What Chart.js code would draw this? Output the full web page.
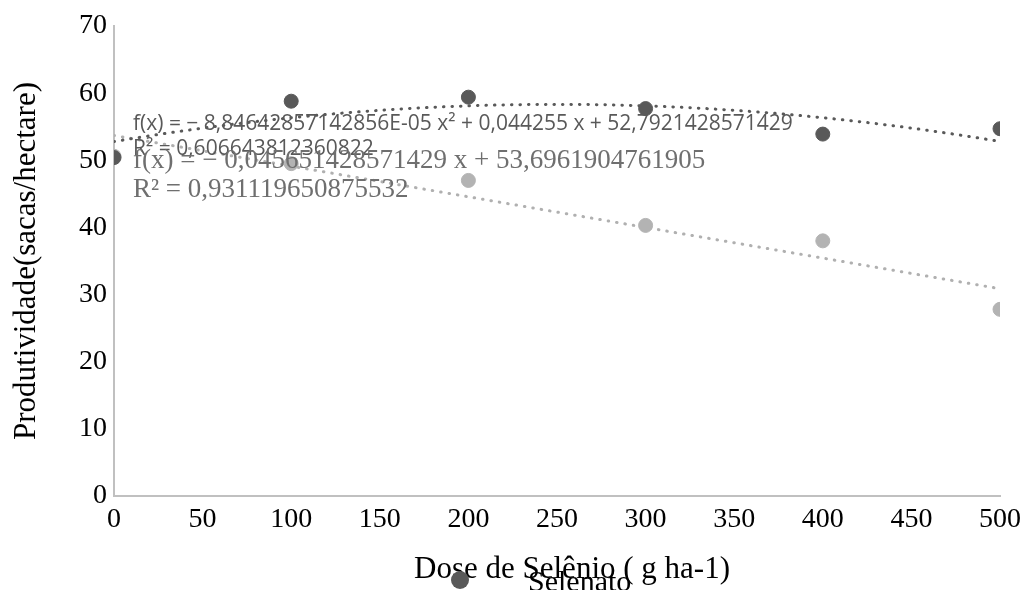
<!DOCTYPE html>
<html>
<head>
<meta charset="utf-8">
<script src="https://cdn.jsdelivr.net/npm/chart.js@4.4.1/dist/chart.umd.min.js"></script>
<style>
  html, body { margin: 0; background: #fff; }
  #wrap { width: 1030px; height: 590px; }
</style>
</head>
<body>
<div id="wrap"><canvas id="chart" width="1030" height="590"></canvas></div>
<script>
// dados
const doses = [0, 100, 200, 300, 400, 500];
const selenato = [50.4, 58.8, 59.4, 57.7, 53.9, 54.7];
const serie2 = [50.6, 49.5, 47.0, 40.3, 38.0, 27.8];
const yTicks = [0, 10, 20, 30, 40, 50, 60, 70];
const xTicks = [0, 50, 100, 150, 200, 250, 300, 350, 400, 450, 500];

// coeficientes das linhas de tendência (texto do gráfico)
const quadCoef = [52.7921428571429, 0.044255, -8.84642857142856e-5];
const linCoef = [53.6961904761905, -0.045651428571429];
const quadLabel = ["f(x) = − 8,84642857142856E-05 x² + 0,044255 x + 52,7921428571429", "R² = 0,606643812360822"];
const linLabel = ["f(x) = − 0,045651428571429 x + 53,6961904761905", "R² = 0,931119650875532"];
const xTitle = "Dose de Selênio ( g ha-1)";

const DARK = "#595959";
const LIGHT = "#b3b3b3";

function trend(coef) {
    const pts = [];
    for (let x = doses[0]; x <= doses[doses.length - 1]; x += 5) {
        let y = 0;
        coef.forEach((c, i) => { y += c * Math.pow(x, i); });
        pts.push({ x, y });
    }
    return pts;
}

function toPoints(ys) {
    return doses.map((x, i) => ({ x, y: ys[i] }));
}

const labelsPlugin = {
    id: "trendLabels",
    afterDatasetsDraw(chart) {
        const ctx = chart.ctx;
        ctx.save();
        ctx.textAlign = "left";
        ctx.textBaseline = "alphabetic";
        ctx.fillStyle = DARK;
        ctx.font = '21px "Open Sans"';
        ctx.fillText(quadLabel[0], 133, 130);
        ctx.fillText(quadLabel[1], 133, 155);
        ctx.fillStyle = "#6f6f6f";
        ctx.font = '27px "Liberation Serif"';
        ctx.fillText(linLabel[0], 133, 168);
        ctx.fillText(linLabel[1], 133, 197);
        ctx.restore();
    },
    afterDraw(chart) {
        const ctx = chart.ctx;
        ctx.save();
        // título do eixo x (deslocado como no Excel)
        ctx.fillStyle = "#000";
        ctx.font = '31px "Liberation Serif"';
        ctx.textAlign = "center";
        ctx.textBaseline = "alphabetic";
        ctx.fillText(xTitle, 572, 578);

        // legenda (só a primeira série)
        const ds = chart.data.datasets[0];
        ctx.fillStyle = ds.backgroundColor;
        ctx.beginPath();
        ctx.arc(460, 580, 9, 0, Math.PI * 2);
        ctx.fill();
        ctx.fillStyle = "#000";
        ctx.font = '30px "Liberation Serif"';
        ctx.textAlign = "left";
        ctx.fillText(ds.label, 528, 591);
        ctx.restore();
    }
};

new Chart(document.getElementById("chart"), {
    type: "scatter",
    data: {
        datasets: [
            {
                label: "Selenato",
                data: toPoints(selenato),
                backgroundColor: DARK,
                borderColor: DARK,
                pointRadius: 7,
                pointHoverRadius: 7,
            },
            {
                label: "Série 2",
                data: toPoints(serie2),
                backgroundColor: LIGHT,
                borderColor: LIGHT,
                pointRadius: 7,
                pointHoverRadius: 7,
            },
            {
                label: "tendência quadrática",
                data: trend(quadCoef),
                showLine: true,
                borderColor: DARK,
                borderWidth: 3,
                borderDash: [0.5, 8],
                borderCapStyle: "round",
                pointRadius: 0,
                fill: false,
            },
            {
                label: "tendência linear",
                data: trend(linCoef),
                showLine: true,
                borderColor: "#b0b0b0",
                borderWidth: 3,
                borderDash: [0.5, 8],
                borderCapStyle: "round",
                pointRadius: 0,
                fill: false,
            },
        ],
    },
    plugins: [labelsPlugin],
    options: {
        responsive: false,
        animation: false,
        layout: { padding: { left: 0, right: 30, top: 26, bottom: 0 } },
        plugins: {
            legend: { display: false },
            tooltip: { enabled: false },
        },
        scales: {
            x: {
                type: "linear",
                min: 0,
                max: 500,
                afterBuildTicks: (axis) => { axis.ticks = xTicks.map((v) => ({ value: v })); },
                afterFit: (axis) => { axis.height = 94; },
                grid: { display: false, drawTicks: false },
                border: { display: true, color: "#c0c0c0", width: 2 },
                ticks: {
                    color: "#000",
                    padding: 7,
                    maxRotation: 0,
                    autoSkip: false,
                    font: { family: "Liberation Serif", size: 28 },
                },
                title: { display: false },
            },
            y: {
                type: "linear",
                min: 0,
                max: 70,
                afterBuildTicks: (axis) => { axis.ticks = yTicks.map((v) => ({ value: v })); },
                afterFit: (axis) => { axis.width = 114; },
                grid: { display: false, drawTicks: false },
                border: { display: true, color: "#c0c0c0", width: 2 },
                ticks: {
                    color: "#000",
                    padding: 7,
                    font: { family: "Liberation Serif", size: 28 },
                },
                title: {
                    display: true,
                    text: "Produtividade(sacas/hectare)",
                    color: "#000",
                    font: { family: "Liberation Serif", size: 31 },
                    padding: { top: 8, bottom: 0 },
                },
            },
        },
    },
});
</script>
</body>
</html>
